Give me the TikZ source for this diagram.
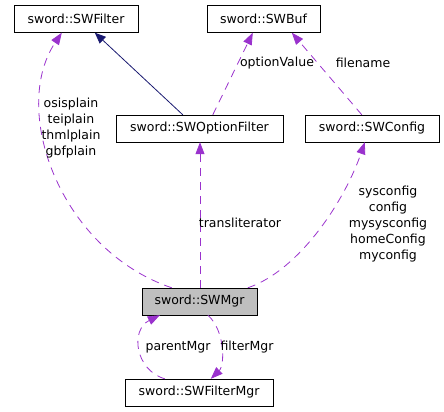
\documentclass[tikz,border=0pt]{standalone}
\usepackage{fontspec}
\setmainfont{DejaVu Sans}
\usetikzlibrary{arrows.meta,calc}
\definecolor{usecol}{HTML}{9A32CD}
\definecolor{inhcol}{HTML}{191970}
\tikzset{
  cls/.style={draw,inner sep=0pt,minimum height=27bp,font=\fontsize{12.5bp}{16bp}\selectfont},
  lbl/.style={inner sep=0pt,align=center,font=\fontsize{12.5bp}{16bp}\selectfont},
  uses/.style={usecol,line width=0.8bp,dash pattern=on 8bp off 6bp,
    -{Triangle[length=12bp,width=9bp]}},
  inherit/.style={inhcol,line width=0.8bp,-{Triangle[length=11bp,width=9bp]}}
}
\begin{document}
\begin{tikzpicture}[x=1bp,y=-1bp]
  \useasboundingbox (0,0) rectangle (444,411);
  % Place the classes
  \node[cls,minimum width=124bp] (filter) at (76,19) {sword::SWFilter};
  \node[cls,minimum width=113bp] (buf) at (263.5,19) {sword::SWBuf};
  \node[cls,minimum width=167bp] (opt) at (199.5,128.5) {sword::SWOptionFilter};
  \node[cls,minimum width=134bp] (conf) at (372,128.5) {sword::SWConfig};
  \node[cls,minimum width=115bp,fill={rgb,255:red,191;green,191;blue,191}] (mgr) at (199.5,301.5) {sword::SWMgr};
  \node[cls,minimum width=148bp] (fmgr) at (199,392.5) {sword::SWFilterMgr};
  % Inheritance
  \draw[inherit] ($(opt.north west)+(67,0)$) -- ($(filter.south west)+(81,0)$);
  % Members of SWMgr
  \draw[uses] ($(mgr.north west)+(30,0)$) .. controls (60,250) and (10,110) ..
    ($(filter.south west)+(48,0)$);
  \draw[uses] ($(mgr.north)+(0.5,0)$) -- ($(opt.south)+(0.5,0)$);
  \draw[uses] ($(mgr.north west)+(106,0)$) .. controls (300,270) and (345,200) ..
    ($(conf.south west)+(60,0)$);
  \draw[uses] ($(mgr.south west)+(66,0)$) .. controls (225,330) and (225,365) ..
    ($(fmgr.north west)+(86,0)$);
  \draw[uses] ($(fmgr.north west)+(40,0)$) .. controls (135,370) and (130,330) ..
    ($(mgr.south west)+(18,0)$);
  % Members pointing to SWBuf
  \draw[uses] ($(opt.north west)+(97,0)$) -- ($(buf.south west)+(46,0)$);
  \draw[uses] ($(conf.north west)+(57,0)$) -- ($(buf.south west)+(85,0)$);
  % Labels
  \node[lbl] (lplain) at (71,128) {osisplain\\teiplain\\thmlplain\\gbfplain};
  \node[lbl] (ltrans) at (240,223) {transliterator};
  \node[lbl] (lopt) at (277,63) {optionValue};
  \node[lbl] (lfile) at (363,63) {filename};
  \node[lbl] (lconf) at (388,224) {sysconfig\\config\\mysysconfig\\homeConfig\\myconfig};
  \node[lbl] (lfmgr) at (247,347) {filterMgr};
  \node[lbl] (lpmgr) at (178,347) {parentMgr};
\end{tikzpicture}
\end{document}
